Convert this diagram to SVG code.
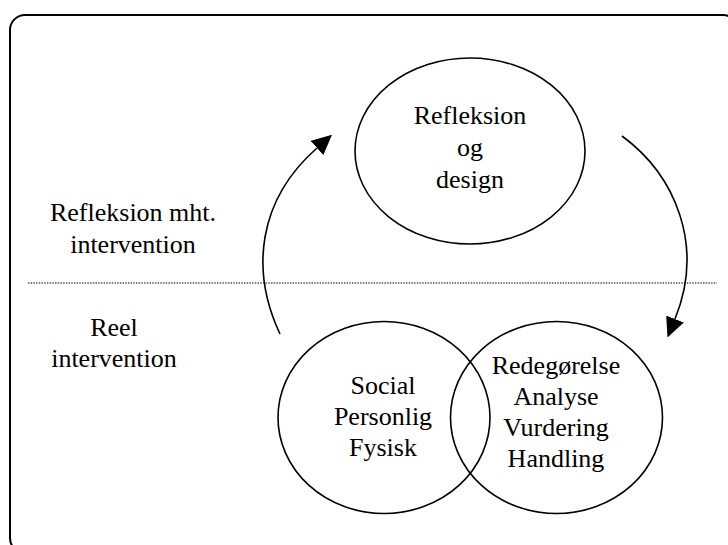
<svg xmlns="http://www.w3.org/2000/svg" width="728" height="545" viewBox="0 0 728 545">
  <style>
    .shape { fill: none; stroke: #000; stroke-width: 1.6; }
    .frame { fill: none; stroke: #000; stroke-width: 2; }
    .divider { stroke: #000; stroke-width: 1.2; stroke-dasharray: 1.5 1.2; }
    .conn { fill: none; stroke: #000; stroke-width: 1.6; }
    .lbl { font-family: 'Liberation Serif', 'DejaVu Serif', serif; font-size: 26px; fill: #000; text-anchor: middle; }
  </style>
  <defs>
    <marker id="arrow" markerUnits="userSpaceOnUse" markerWidth="21" markerHeight="20" refX="0" refY="9.5" orient="auto">
      <path d="M0,0 L20,9.5 L0,19 z" fill="#000"/>
    </marker>
  </defs>
  <rect width="728" height="545" fill="#fff"/>

  <!-- outer frame -->
  <rect class="frame" x="10" y="15" width="728" height="538" rx="15" ry="15"/>

  <!-- divider between reflection and real intervention -->
  <line class="divider" x1="28" y1="283" x2="717" y2="283"/>

  <g id="label-reflection" class="lbl" font-family="Liberation Serif, serif">
    <text x="133" y="221">Refleksion mht.</text>
    <text x="133" y="253">intervention</text>
  </g>
  <g id="label-real" class="lbl" font-family="Liberation Serif, serif">
    <text x="114" y="336">Reel</text>
    <text x="114" y="367">intervention</text>
  </g>

  <g id="node-design">
    <ellipse class="shape" cx="470" cy="151" rx="115" ry="93"/>
    <g class="lbl" font-family="Liberation Serif, serif">
      <text x="470" y="124">Refleksion</text>
      <text x="470" y="156">og</text>
      <text x="470" y="188">design</text>
    </g>
  </g>

  <g id="node-context">
    <ellipse class="shape" cx="384" cy="417.5" rx="106" ry="96"/>
    <g class="lbl" font-family="Liberation Serif, serif">
      <text x="383" y="394">Social</text>
      <text x="383" y="425">Personlig</text>
      <text x="383" y="456">Fysisk</text>
    </g>
  </g>

  <g id="node-process">
    <ellipse class="shape" cx="556.5" cy="417.5" rx="106" ry="96"/>
    <g class="lbl" font-family="Liberation Serif, serif">
      <text x="556" y="374">Redegørelse</text>
      <text x="556" y="405">Analyse</text>
      <text x="556" y="436">Vurdering</text>
      <text x="556" y="467">Handling</text>
    </g>
  </g>

  <g id="connectors">
    <path class="conn" d="M280,334 C250,270 258,200 317,148" marker-end="url(#arrow)"/>
    <path class="conn" d="M622,136 C675,175 705,245 675,319" marker-end="url(#arrow)"/>
  </g>
</svg>
